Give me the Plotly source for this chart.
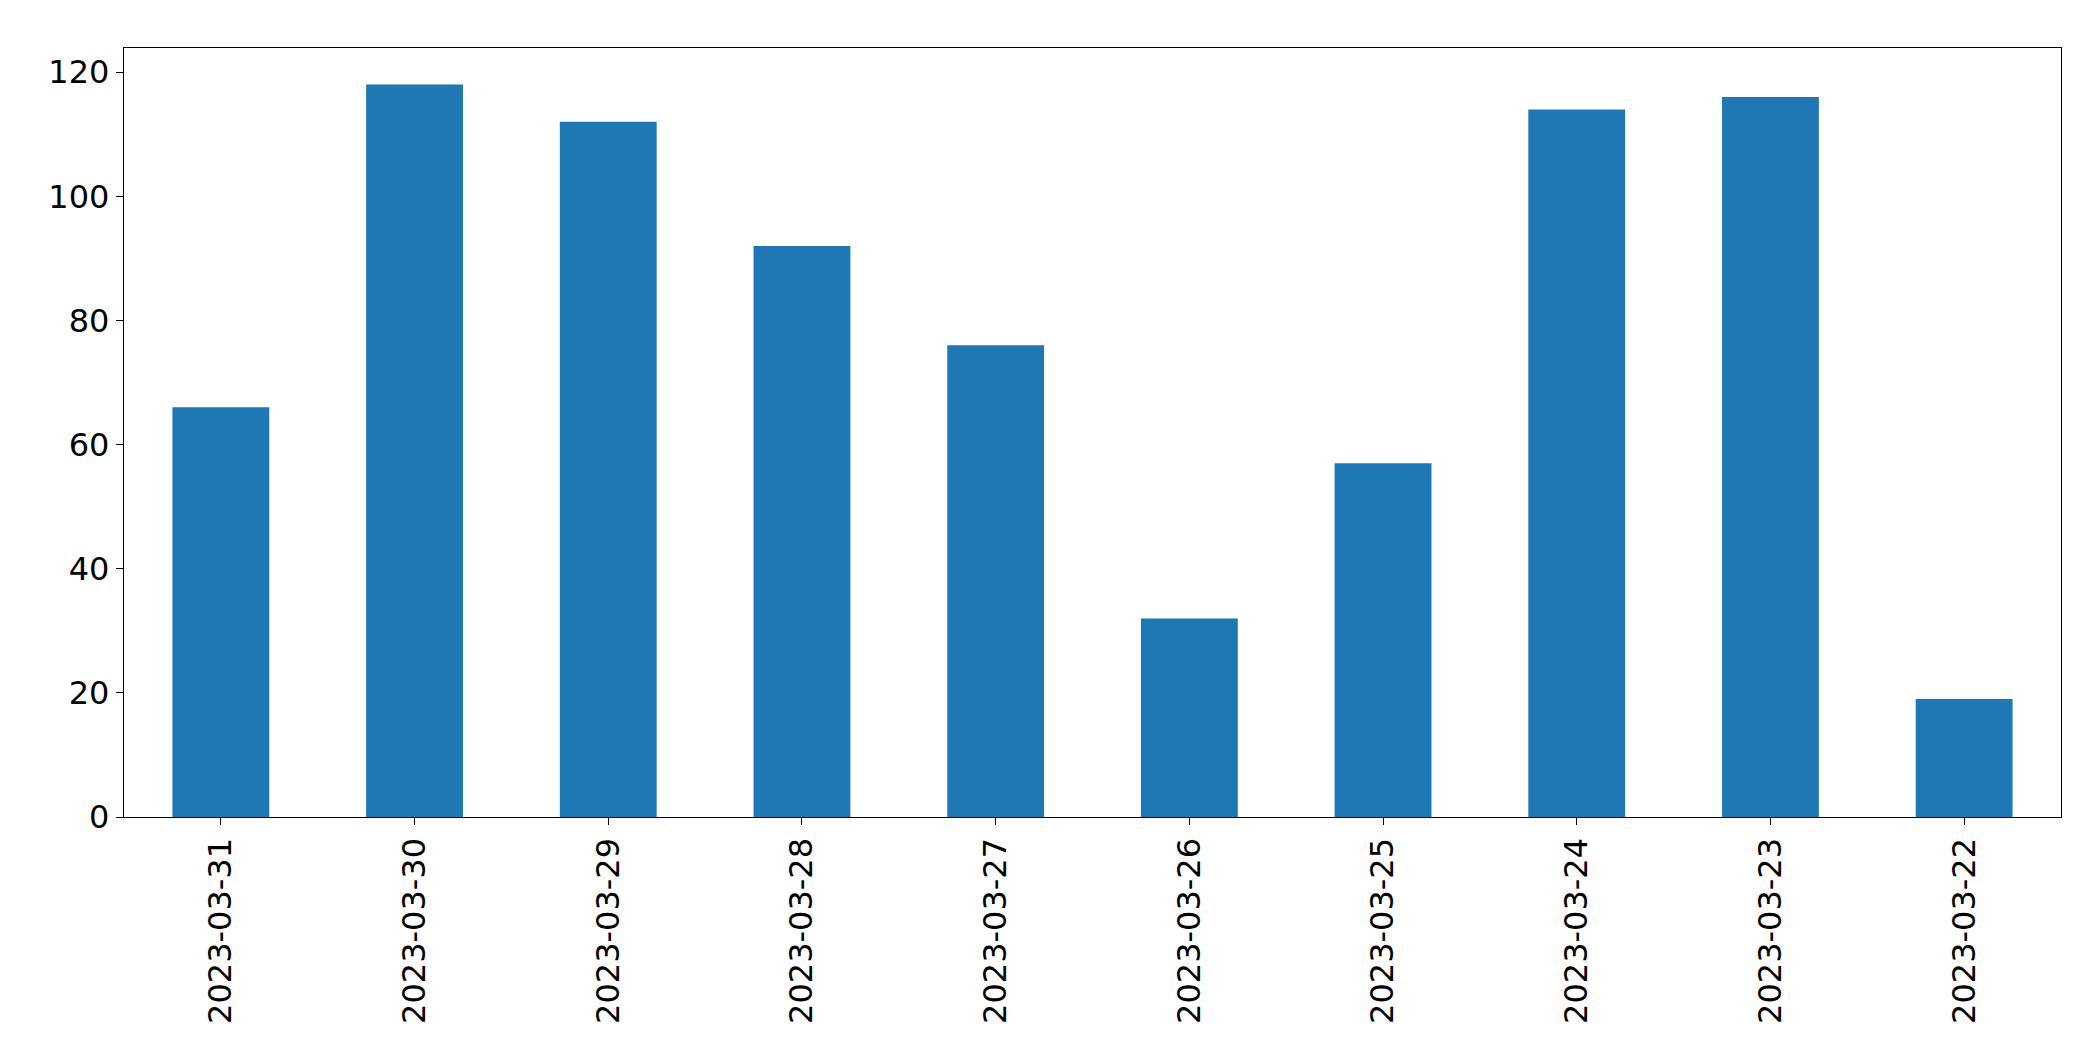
import plotly.graph_objects as go

dates = ["2023-03-31","2023-03-30","2023-03-29","2023-03-28","2023-03-27",
         "2023-03-26","2023-03-25","2023-03-24","2023-03-23","2023-03-22"]
values = [66, 118, 112, 92, 76, 32, 57, 114, 116, 19]

fig = go.Figure(go.Bar(x=dates, y=values, width=0.5, marker_color="#1f77b4",
                       marker_line_width=0))
fig.update_layout(
    width=2093, height=1061, plot_bgcolor="white", paper_bgcolor="white",
    margin=dict(l=116, r=40, t=40, b=252),
    font=dict(family="DejaVu Sans", size=32, color="black"),
    showlegend=False,
)
fig.update_xaxes(type="category", range=[-0.5, 9.5], tickangle=-90,
                 showline=True, linecolor="black", linewidth=1.3, mirror=True,
                 ticks="outside", ticklen=7, tickcolor="black", showgrid=False)
fig.update_yaxes(range=[0, 123.9], tickvals=[0,20,40,60,80,100,120],
                 showline=True, linecolor="black", linewidth=1.3, mirror=True,
                 ticks="outside", ticklen=7, tickcolor="black", showgrid=False,
                 zeroline=False)
fig.write_html("out.html")
